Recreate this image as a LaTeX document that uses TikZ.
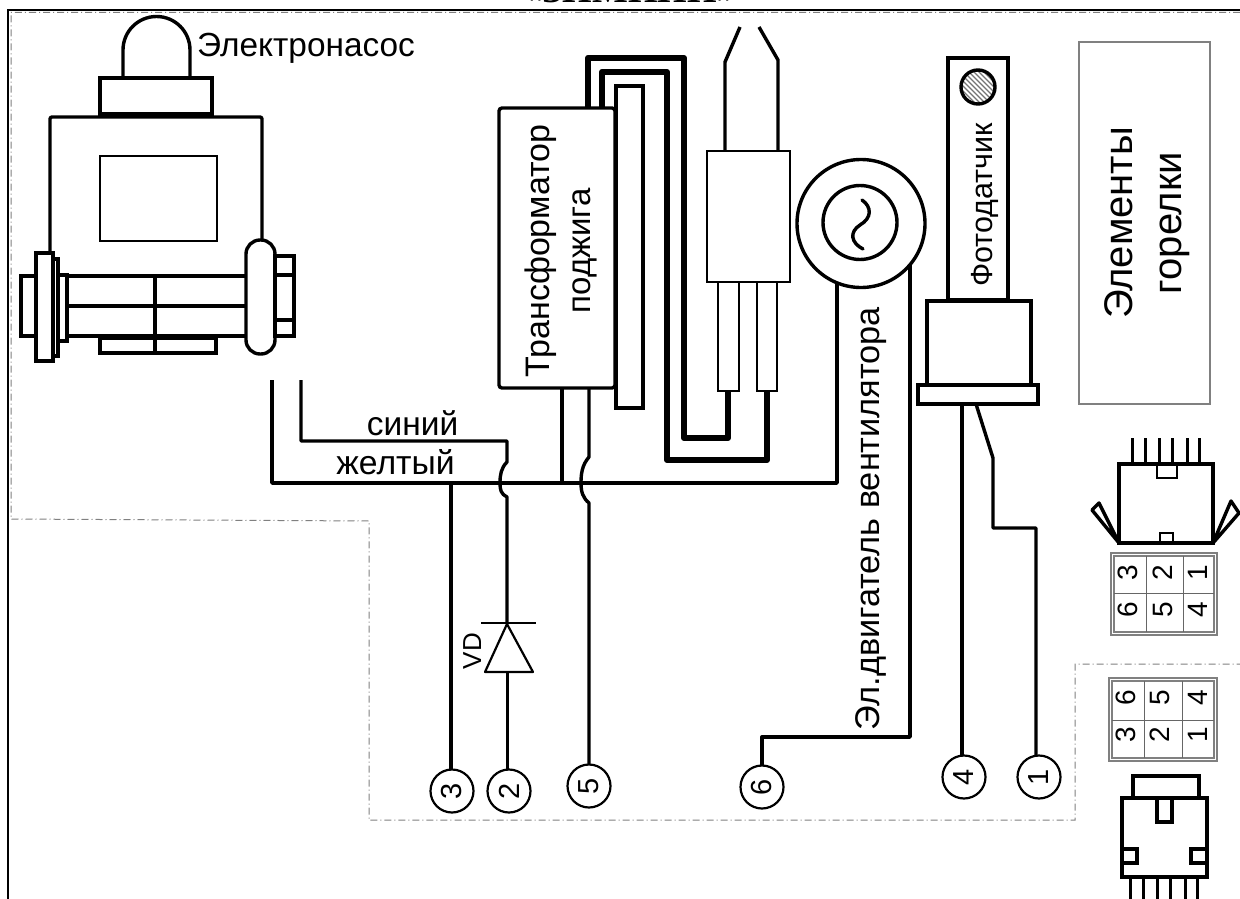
\documentclass[tikz,border=0pt]{standalone}
\usepackage{graphicx}
\usepackage{fontspec}
\usetikzlibrary{calc}
\setmainfont{Liberation Sans}
\newfontfamily\serf{Liberation Serif}
\newcommand{\fz}[1]{\fontsize{#1}{#1}\selectfont}
\newcommand{\bx}[6]{\node[#2,minimum width={(#5-#3)*1pt},minimum height={(#6-#4)*1pt}] (#1) at ({(#3+#5)/2},{(#4+#6)/2}) {};}
\newcommand{\dg}[3]{\node[rdigit] at (#1,#2) {#3};}
\tikzset{
  x=1pt,y=-1pt,
  part/.style={draw=black,line width=3.4pt,rectangle,inner sep=0pt,outer sep=0pt},
  partthin/.style={part,line width=2.4pt},
  roundpart/.style={part,rounded corners=3pt},
  wire/.style={draw=black,line width=3.4pt,line join=round},
  hv/.style={draw=black,line width=6.2pt,line join=round},
  frameline/.style={draw=black,line width=2.4pt},
  zone/.style={draw=black!50,line width=1pt,dash pattern=on 7pt off 3pt on 1pt off 3pt},
  grayrect/.style={draw=black!50,line width=1.2pt,rectangle,inner sep=0pt,outer sep=0pt},
  pin/.style={draw=black,circle,line width=2.2pt,minimum size=43pt,inner sep=0pt,outer sep=0pt,font=\fz{29}},
  rdigit/.style={rotate=90,inner sep=0pt,font=\fz{28}},
  rlabel/.style={rotate=90,anchor=base,inner sep=0pt},
}
\begin{document}
\begin{tikzpicture}
\useasboundingbox (0,0) rectangle (1240,899);
\clip (0,0) rectangle (1240,899);
% title, cut by the top edge
\node[anchor=base,inner sep=0pt,font=\serf\bfseries\fz{38}] (title) at (630,3) {«ЗИМНИЙ»};
% frame
\coordinate (fa) at (1240,10); \coordinate (fb) at (8,10); \coordinate (fc) at (8,899);
\draw[frameline] (fa) -- (fb) -- (fc);
% zone borders
\coordinate (za) at (1240,12.5); \coordinate (zb) at (11,12.5); \coordinate (zc) at (11,519);
\coordinate (zd) at (369,521); \coordinate (ze) at (369,820); \coordinate (zf) at (1075,820);
\coordinate (zg) at (1075,664); \coordinate (zh) at (1240,664);
\draw[zone] (za) -- (zb) -- (zc) -- (zd) -- (ze) -- (zf) -- (zg) -- (zh);

% ---------- pump
\coordinate (doml) at (123,78); \coordinate (domr) at (190,78);
\draw[wire] (doml) -- (123,50) arc[start angle=180,end angle=0,x radius=33.5pt,y radius=33.5pt] -- (domr);
\bx{pcap}{part}{100}{78}{212}{114}
\coordinate (ba) at (50,252); \coordinate (bb) at (50,117); \coordinate (bc) at (262,117); \coordinate (bd) at (262,240);
\draw[wire,rounded corners=2pt] (ba) -- (bb) -- (bc) -- (bd);
\bx{pwin}{partthin}{100}{156}{217}{241}
\bx{pfl}{part}{36}{253}{53}{361}
\bx{pfl2}{part}{53}{259}{58}{356}
\bx{pend}{part}{21}{276}{36}{336}
\bx{pcol}{part}{58}{275}{67}{341}
\bx{poval}{part,rounded corners=14pt}{246}{240}{275}{354}
\bx{pnut}{part}{275}{256}{294}{336}
\coordinate (ta1) at (67,276); \coordinate (ta2) at (246,276);
\coordinate (tb1) at (67,306); \coordinate (tb2) at (246,306);
\coordinate (tc1) at (67,336); \coordinate (tc2) at (246,336);
\draw[wire] (ta1) -- (ta2); \draw[wire] (tb1) -- (tb2); \draw[wire] (tc1) -- (tc2);
\coordinate (nu1) at (275,275); \coordinate (nu2) at (294,275);
\coordinate (nv1) at (275,320); \coordinate (nv2) at (294,320);
\draw[wire] (nu1) -- (nu2); \draw[wire] (nv1) -- (nv2);
\bx{pfoot}{part}{100}{338}{216}{353}
\coordinate (pv1) at (155,276); \coordinate (pv2) at (155,353);
\draw[wire] (pv1) -- (pv2);
\node[anchor=base west,inner sep=0pt,font=\fz{33.4}] (lpump) at (197,57) {Электронасос};

% ---------- pin circles
\node[pin] (n3) at (452,791) {\rotatebox{90}{3}};
\node[pin] (n2) at (509,791) {\rotatebox{90}{2}};
\node[pin] (n5) at (589,786) {\rotatebox{90}{5}};
\node[pin] (n6) at (762,787) {\rotatebox{90}{6}};
\node[pin] (n4) at (964,777) {\rotatebox{90}{4}};
\node[pin] (n1) at (1039,777) {\rotatebox{90}{1}};

% ---------- transformer
\bx{trafo}{roundpart}{499}{108}{615}{388}
\bx{strip}{part}{616}{86}{643}{408}
\node[rlabel,font=\fz{34}] (ltr) at (549,251) {Трансформатор};
\node[rlabel,font=\fz{33}] (lpod) at (590,251) {поджига};

% ---------- electrodes
\bx{eblock}{partthin}{707}{151}{790}{282}
\bx{esa}{partthin}{718}{282}{739}{391}
\bx{esb}{partthin}{757}{282}{777}{391}
\coordinate (ea) at (725,151); \coordinate (eb) at (725,62); \coordinate (ec) at (740,27);
\coordinate (ed) at (778,151); \coordinate (ee) at (778,60); \coordinate (ef) at (759,27);
\draw[wire] (ea) -- (eb) -- (ec);
\draw[wire] (ed) -- (ee) -- (ef);
% high voltage leads
\coordinate (ha) at (588,108); \coordinate (hb) at (588,58); \coordinate (hc) at (684,58);
\coordinate (hd) at (684,438); \coordinate (he) at (728,438); \coordinate (hf) at (728,390);
\draw[hv] (ha) -- (hb) -- (hc) -- (hd) -- (he) -- (hf);
\coordinate (ia) at (602,108); \coordinate (ib) at (602,72); \coordinate (ic) at (667,72);
\coordinate (id) at (667,460); \coordinate (ie) at (767,460); \coordinate (if) at (767,390);
\draw[hv] (ia) -- (ib) -- (ic) -- (id) -- (ie) -- (if);

% ---------- motor
\node[draw,circle,line width=3.4pt,minimum size=128pt,inner sep=0pt,outer sep=0pt] (motor) at (861,223.5) {};
\node[draw,circle,line width=3.4pt,minimum size=74pt,inner sep=0pt,outer sep=0pt] (rotor) at (860,222.5) {};
\coordinate (sa) at (862,200); \coordinate (sm) at (860,225); \coordinate (sb) at (863,249);
\draw[wire,line cap=round] (sa) .. controls (872,207) and (872,218) .. (sm) .. controls (849,232) and (851,243) .. (sb);
\node[rlabel,font=\fz{34.3}] (lmot) at (879,518.5) {Эл.двигатель вентилятора};

% ---------- wiring
\coordinate (ps) at (272,380); \coordinate (bl) at (272,483); \coordinate (br) at (837,483); \coordinate (mt) at (837,282);
\draw[wire] (ps) -- (bl) -- (br) -- (mt);
\coordinate (qs) at (301,380); \coordinate (qb) at (301,441); \coordinate (qc) at (507,441); \coordinate (qd) at (507,462);
\coordinate (qe) at (500,483); \coordinate (qf) at (507,497); \coordinate (cath) at (507,623);
\draw[wire] (qs) -- (qb) -- (qc) -- (qd) .. controls (501,468) and (500,475) .. (qe) .. controls (500,490) and (501,494) .. (qf) -- (cath);
\node[anchor=base,inner sep=0pt,font=\fz{33.5}] (lblue) at (412.5,435) {синий};
\node[anchor=base,inner sep=0pt,font=\fz{33.7}] (lyel) at (395.5,474) {желтый};
\coordinate (t3) at (451,483); \draw[wire] (t3) -- (n3.north -| t3);
\coordinate (t1) at (562,388); \coordinate (t1b) at (562,483); \draw[wire] (t1) -- (t1b);
\coordinate (t2) at (589,388); \coordinate (t2b) at (589,457); \coordinate (t2c) at (581,483); \coordinate (t2d) at (589,503);
\draw[wire] (t2) -- (t2b) .. controls (582,465) and (581,474) .. (t2c) .. controls (581,492) and (583,498) .. (t2d) -- (n5.north);
% diode
\coordinate (dba) at (481,623); \coordinate (dbb) at (536,623);
\draw[wire,line width=2pt] (dba) -- (dbb);
\coordinate (dtl) at (485,672); \coordinate (dtr) at (533,672); \coordinate (dap) at (507,624);
\draw[wire,line width=2.2pt] (dap) -- (dtr) -- (dtl) -- cycle;
\coordinate (dout) at (507.5,672);
\draw[wire] (dout) -- (n2.north -| dout);
\node[rlabel,font=\fz{26}] (lvd) at (481,651) {VD};
% fan wire
\coordinate (fw1) at (910,265); \coordinate (fw2) at (910,737); \coordinate (fw3) at (762,737);
\draw[wire] (fw1) -- (fw2) -- (fw3) -- (n6.north);

% ---------- photosensor
\bx{fstem}{part}{948}{58}{1008}{300}
\bx{fbody}{part}{927}{301}{1031}{385}
\bx{fbase}{part}{918}{385}{1038}{404}
\node[draw,circle,line width=3.4pt,minimum size=34pt,inner sep=0pt,outer sep=0pt,
  path picture={\foreach \k in {-44,-39,...,44}{\draw[black!55,line width=1.2pt] ($(path picture bounding box.center)+(\k-30,-30)$) -- ($(path picture bounding box.center)+(\k+30,30)$);}}] (lens) at (978,87) {};
\node[rlabel,font=\fz{30.5}] (lfoto) at (992,205) {Фотодатчик};
\coordinate (fo1) at (962,404); \draw[wire] (fo1) -- (n4.north -| fo1);
\coordinate (fo2) at (976,404); \coordinate (fo3) at (993,458); \coordinate (fo4) at (993,528); \coordinate (fo5) at (1036,528);
\draw[wire] (fo2) -- (fo3) -- (fo4) -- (fo5) -- (n1.north -| fo5);

% ---------- burner elements box
\bx{elbox}{grayrect}{1079}{42}{1210}{404}
\node[rlabel,font=\fz{40}] (lel) at (1132,223) {Элементы};
\node[rlabel,font=\fz{40}] (lgor) at (1181,223) {горелки};

% ---------- upper connector
\foreach \px/\pn in {1132/a,1145/b,1159/c,1172/d,1187/e,1199/f}{
  \coordinate (up\pn) at (\px,438); \coordinate (uq\pn) at (\px,464);
  \draw[wire,line width=3pt] (up\pn) -- (uq\pn);}
\bx{uc}{part}{1119}{464}{1213}{543}
\bx{uct}{partthin}{1157}{464}{1177}{478}
\bx{ucb}{partthin}{1160}{533}{1173}{543}
\coordinate (ula) at (1119,543); \coordinate (ulb) at (1092,510); \coordinate (ulc) at (1099,503);
\coordinate (ura) at (1213,543); \coordinate (urb) at (1231,501); \coordinate (urc) at (1239,513);
\draw[wire] (ula) -- (ulb) -- (ulc) -- cycle;
\draw[wire] (ura) -- (urb) -- (urc) -- cycle;
\bx{uto}{grayrect}{1111}{553}{1217}{635}
\bx{uti}{grayrect}{1114}{556}{1214}{632}
\coordinate (uv1) at (1146,556); \coordinate (uv1b) at (1146,632); \coordinate (uv2) at (1183,556); \coordinate (uv2b) at (1183,632);
\coordinate (uh) at (1114,593); \coordinate (uhb) at (1214,593);
\draw[black!60,line width=1pt] (uv1) -- (uv1b) (uv2) -- (uv2b) (uh) -- (uhb);
\dg{1128}{573}{3}\dg{1163}{573}{2}\dg{1198}{573}{1}
\dg{1128}{610}{6}\dg{1163}{610}{5}\dg{1198}{610}{4}

% ---------- lower connector
\bx{lto}{grayrect}{1109}{678}{1217}{761}
\bx{lti}{grayrect}{1112}{681}{1214}{758}
\coordinate (lv1) at (1144,681); \coordinate (lv1b) at (1144,758); \coordinate (lv2) at (1182,681); \coordinate (lv2b) at (1182,758);
\coordinate (lh) at (1112,720); \coordinate (lhb) at (1214,720);
\draw[black!60,line width=1pt] (lv1) -- (lv1b) (lv2) -- (lv2b) (lh) -- (lhb);
\dg{1126}{698}{6}\dg{1160}{698}{5}\dg{1198}{698}{4}
\dg{1126}{735}{3}\dg{1160}{735}{2}\dg{1198}{735}{1}
\bx{lct}{part}{1133}{776}{1199}{798}
\bx{lc}{part}{1122}{798}{1207}{877}
\bx{lcn}{part}{1157}{798}{1172}{822}
\bx{lcl}{part}{1122}{849}{1137}{863}
\bx{lcr}{part}{1191}{849}{1207}{863}
\foreach \px/\pn in {1130/a,1143/b,1157/c,1170/d,1185/e,1197/f}{
  \coordinate (lp\pn) at (\px,877); \coordinate (lq\pn) at (\px,899);
  \draw[wire,line width=3pt] (lp\pn) -- (lq\pn);}
\end{tikzpicture}
\end{document}
